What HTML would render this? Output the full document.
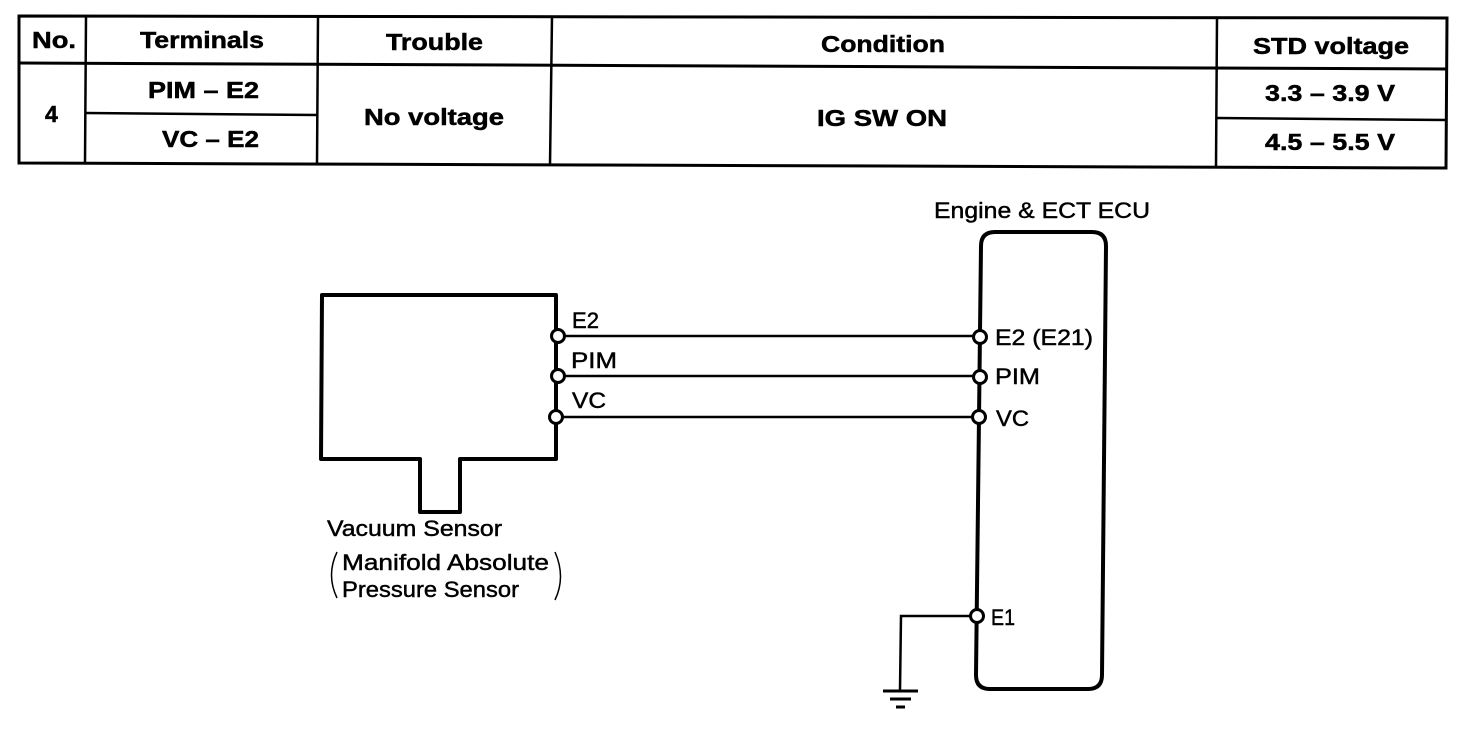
<!DOCTYPE html>
<html>
<head>
<meta charset="utf-8">
<style>
html,body{margin:0;padding:0;background:#fff;}
svg{display:block;}
text{font-family:"Liberation Sans",sans-serif;fill:#000;}
.b{font-weight:bold;font-size:23px;stroke:#000;stroke-width:.5px;}
.n{font-size:22px;stroke:#000;stroke-width:.45px;}
.l{stroke:#000;fill:none;stroke-width:2.5px;}
.t{stroke:#000;fill:none;stroke-width:3px;}
.s{stroke:#000;fill:none;stroke-width:4px;stroke-linejoin:round;}
.c{fill:#fff;stroke:#000;stroke-width:3px;}
</style>
</head>
<body>
<svg width="1472" height="742" viewBox="0 0 1472 742" xmlns="http://www.w3.org/2000/svg">
<!-- table -->
<path class="t" d="M19 16 L1447 18 L1446 168 L19 163 Z"/>
<path class="t" d="M19 63 L1447 69"/>
<path class="l" d="M86 17 L85 163 M318 17 L317 164 M552 17 L550 165 M1217 18 L1216 167"/>
<path class="l" d="M86 113 L318 115 M1216 118 L1447 120"/>
<text class="b" x="32" y="48" textLength="44" lengthAdjust="spacingAndGlyphs">No.</text>
<text class="b" x="140" y="48" textLength="124" lengthAdjust="spacingAndGlyphs">Terminals</text>
<text class="b" x="386" y="50" textLength="97" lengthAdjust="spacingAndGlyphs">Trouble</text>
<text class="b" x="821" y="52" textLength="124" lengthAdjust="spacingAndGlyphs">Condition</text>
<text class="b" x="1253" y="54" textLength="156" lengthAdjust="spacingAndGlyphs">STD voltage</text>
<text class="b" x="45" y="122">4</text>
<text class="b" x="148" y="98" textLength="111" lengthAdjust="spacingAndGlyphs">PIM – E2</text>
<text class="b" x="162" y="147" textLength="97" lengthAdjust="spacingAndGlyphs">VC – E2</text>
<text class="b" x="364" y="125" textLength="140" lengthAdjust="spacingAndGlyphs">No voltage</text>
<text class="b" x="817" y="126" textLength="130" lengthAdjust="spacingAndGlyphs">IG SW ON</text>
<text class="b" x="1265" y="101" textLength="130" lengthAdjust="spacingAndGlyphs">3.3 – 3.9 V</text>
<text class="b" x="1265" y="150" textLength="130" lengthAdjust="spacingAndGlyphs">4.5 – 5.5 V</text>
<!-- sensor -->
<path class="s" d="M322 295 H556 V459 H460 V512 H420 V459 H321 Z"/>
<!-- ECU -->
<path class="s" d="M995 232 H1092 Q1106 232 1106 246 L1102 675 Q1102 689 1088 689 H990 Q976 689 976 675 L981 246 Q981 232 995 232 Z"/>
<!-- wires -->
<path class="l" d="M558 336 H980 M558 376 H980 M558 417 H980"/>
<path class="l" d="M978 616 H901 L900 690"/>
<path class="t" d="M883 691 H918 M890 699 H911 M896 707 H905"/>
<circle class="c" cx="558" cy="336" r="6.5"/>
<circle class="c" cx="558" cy="376" r="6.5"/>
<circle class="c" cx="556" cy="417" r="6.5"/>
<circle class="c" cx="980" cy="337" r="6.5"/>
<circle class="c" cx="980" cy="377" r="6.5"/>
<circle class="c" cx="979" cy="417" r="6.5"/>
<circle class="c" cx="977" cy="616" r="6.5"/>
<!-- labels -->
<text class="n" x="934" y="218" textLength="216" lengthAdjust="spacingAndGlyphs">Engine &amp; ECT ECU</text>
<text class="n" x="572" y="328" textLength="27" lengthAdjust="spacingAndGlyphs">E2</text>
<text class="n" x="571" y="368" textLength="46" lengthAdjust="spacingAndGlyphs">PIM</text>
<text class="n" x="572" y="408" textLength="34" lengthAdjust="spacingAndGlyphs">VC</text>
<text class="n" x="995" y="345" textLength="98" lengthAdjust="spacingAndGlyphs">E2 (E21)</text>
<text class="n" x="995" y="384" textLength="45" lengthAdjust="spacingAndGlyphs">PIM</text>
<text class="n" x="996" y="426" textLength="33" lengthAdjust="spacingAndGlyphs">VC</text>
<text class="n" x="991" y="625" textLength="24" lengthAdjust="spacingAndGlyphs">E1</text>
<text class="n" x="327" y="536" textLength="175" lengthAdjust="spacingAndGlyphs">Vacuum Sensor</text>
<text class="n" x="342" y="570" textLength="207" lengthAdjust="spacingAndGlyphs">Manifold Absolute</text>
<text class="n" x="342" y="597" textLength="177" lengthAdjust="spacingAndGlyphs">Pressure Sensor</text>
<path d="M337 552 Q326 575 337 598 M555 552 Q566 577 555 600" fill="none" stroke="#000" stroke-width="1.5"/>
</svg>
</body>
</html>
